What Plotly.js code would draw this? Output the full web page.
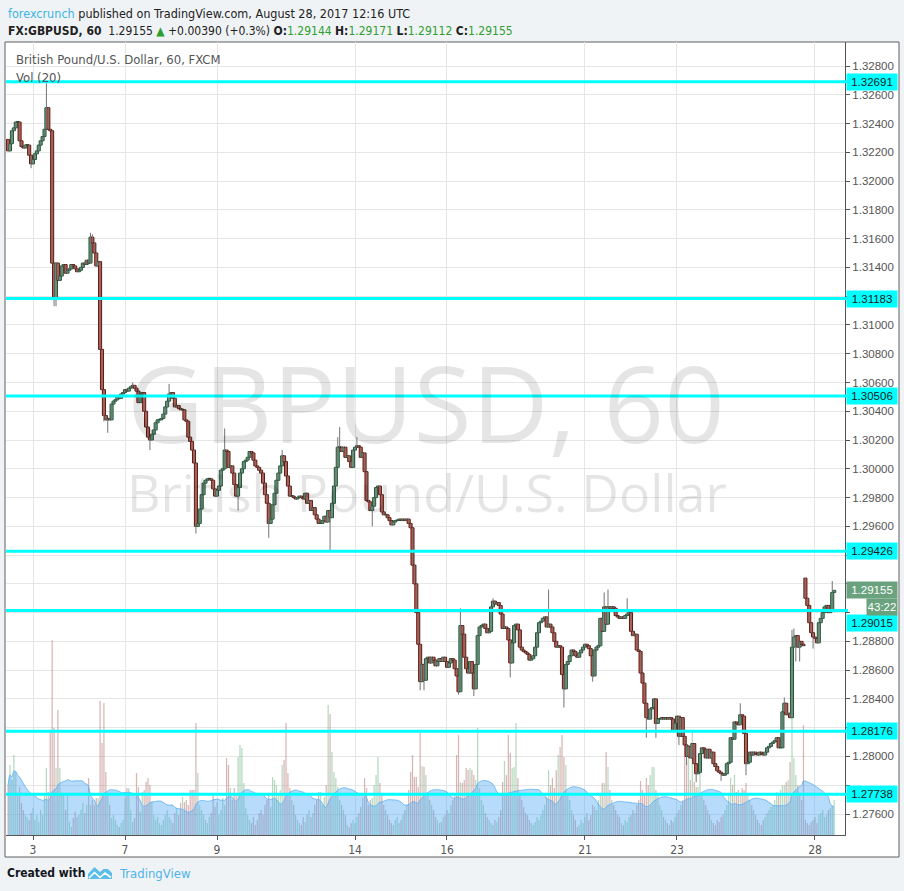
<!DOCTYPE html>
<html>
<head>
<meta charset="utf-8">
<script src="https://cdn.plot.ly/plotly-3.0.1.min.js"></script>
<style>
html,body{margin:0;padding:0;background:#f0f3f6;}
#chart{width:904px;height:891px;}
</style>
</head>
<body>
<div id="chart"></div>
<script>
// ---------------- DATA ----------------
// hourly bars, 2 Aug 2017 ~11:00 UTC .. 28 Aug 2017 12:00 UTC (FX:GBPUSD, 60)
const tickIdx = [13, 61, 109, 181, 229, 301, 349, 421];
const tickLabels = ['3', '7', '9', '14', '16', '21', '23', '28'];

// price-axis labels that are not covered by the level boxes
const priceTicks = [1.276, 1.280, 1.284, 1.286, 1.288, 1.296, 1.298, 1.300, 1.302, 1.304, 1.306, 1.308,
                    1.310, 1.314, 1.316, 1.318, 1.320, 1.322, 1.324, 1.326, 1.328];

const closes = [
1.3221,1.3226,1.3235,1.3237,1.3241,1.3241,1.3228,1.3224,1.3223,1.3225,1.3225,1.3218,
1.3212,1.3215,1.3219,1.3221,1.3225,1.3228,1.3231,1.3236,1.3251,1.3236,1.3235,1.3143,
1.3119,1.3143,1.3131,1.3134,1.3141,1.3142,1.3136,1.3138,1.3139,1.3142,1.3141,1.3139,
1.3137,1.3138,1.3140,1.3143,1.3142,1.3145,1.3143,1.3161,1.3157,1.3150,1.3141,1.3144,
1.3083,1.3055,1.3037,1.3034,1.3035,1.3034,1.3045,1.3047,1.3048,1.3050,1.3049,1.3052,
1.3053,1.3055,1.3054,1.3056,1.3057,1.3058,1.3056,1.3054,1.3046,1.3052,1.3053,1.3040,
1.3029,1.3022,1.3020,1.3024,1.3027,1.3032,1.3034,1.3034,1.3035,1.3038,1.3043,1.3047,
1.3052,1.3053,1.3049,1.3043,1.3044,1.3042,1.3041,1.3041,1.3034,1.3033,1.3022,1.3019,
1.3013,1.3004,1.2960,1.2962,1.2972,1.2982,1.2990,1.2992,1.2993,1.2993,1.2992,1.2986,
1.2981,1.2985,1.2988,1.2999,1.3000,1.3013,1.3012,1.3001,1.3002,1.2997,1.2989,1.2981,
1.2987,1.2997,1.3000,1.3005,1.3006,1.3008,1.3012,1.3011,1.3006,1.3002,1.3001,1.2999,
1.2997,1.2990,1.2982,1.2976,1.2962,1.2965,1.2975,1.2983,1.2992,1.2997,1.3002,1.3009,
1.3005,1.2995,1.2988,1.2981,1.2981,1.2980,1.2979,1.2980,1.2981,1.2980,1.2979,1.2983,
1.2976,1.2978,1.2971,1.2973,1.2968,1.2965,1.2962,1.2962,1.2964,1.2967,1.2963,1.2971,
1.2966,1.2976,1.2988,1.3001,1.3015,1.3015,1.3012,1.3015,1.3008,1.3009,1.3005,1.3001,
1.3013,1.3015,1.3016,1.3015,1.3008,1.3011,1.2998,1.2978,1.2977,1.2971,1.2974,1.2980,
1.2987,1.2988,1.2982,1.2970,1.2968,1.2968,1.2966,1.2964,1.2961,1.2963,1.2964,1.2964,
1.2965,1.2964,1.2965,1.2964,1.2965,1.2962,1.2959,1.2933,1.2920,1.2900,1.2878,1.2852,
1.2864,1.2853,1.2868,1.2869,1.2865,1.2869,1.2867,1.2863,1.2866,1.2868,1.2866,1.2869,
1.2866,1.2862,1.2865,1.2868,1.2867,1.2861,1.2856,1.2845,1.2891,1.2885,1.2869,1.2861,
1.2858,1.2866,1.2858,1.2847,1.2864,1.2884,1.2890,1.2891,1.2892,1.2889,1.2886,1.2887,
1.2904,1.2908,1.2906,1.2907,1.2905,1.2899,1.2889,1.2890,1.2889,1.2881,1.2865,1.2879,
1.2891,1.2892,1.2888,1.2876,1.2874,1.2873,1.2872,1.2871,1.2867,1.2868,1.2870,1.2876,
1.2886,1.2893,1.2894,1.2896,1.2897,1.2890,1.2892,1.2890,1.2886,1.2880,1.2876,1.2877,
1.2876,1.2857,1.2847,1.2864,1.2866,1.2870,1.2874,1.2873,1.2870,1.2869,1.2872,1.2874,
1.2876,1.2878,1.2877,1.2875,1.2870,1.2856,1.2874,1.2876,1.2877,1.2896,1.2887,1.2904,
1.2892,1.2904,1.2903,1.2904,1.2903,1.2898,1.2897,1.2896,1.2897,1.2896,1.2898,1.2899,
1.2900,1.2887,1.2884,1.2885,1.2874,1.2873,1.2858,1.2851,1.2837,1.2827,1.2826,1.2833,
1.2834,1.2840,1.2823,1.2826,1.2826,1.2827,1.2826,1.2827,1.2826,1.2827,1.2826,1.2818,
1.2823,1.2828,1.2814,1.2827,1.2814,1.2808,1.2800,1.2807,1.2799,1.2809,1.2795,1.2788,
1.2789,1.2802,1.2806,1.2805,1.2799,1.2805,1.2799,1.2803,1.2795,1.2793,1.2790,1.2789,
1.2788,1.2787,1.2788,1.2795,1.2796,1.2813,1.2812,1.2824,1.2823,1.2822,1.2829,1.2828,
1.2816,1.2795,1.2796,1.2803,1.2801,1.2803,1.2802,1.2801,1.2803,1.2802,1.2801,1.2803,
1.2806,1.2807,1.2809,1.2810,1.2811,1.2813,1.2806,1.2806,1.2831,1.2837,1.2829,1.2830,
1.2827,1.2876,1.2883,1.2884,1.2876,1.2880,1.2878,1.2877,1.2910,1.2905,1.2893,1.2886,
1.2883,1.2882,1.2879,1.2893,1.2896,1.2900,1.2904,1.2905,1.2900,1.2902,1.2914,1.29155
];

// bars whose open is not the previous close (first bar, weekend gap)
const gapIdx = [0, 416];
const gapOpen = [1.3229, 1.2924];

// visible wick extremes
const hiIdx = [20,43,44,65,84,113,143,172,173,182,236,253,282,311,313,323,382,405,409,410,430];
const hiVal = [1.3268,1.3164,1.3163,1.3060,1.3059,1.3028,1.3013,1.3022,1.3029,1.3022,1.2903,1.2910,1.2916,1.2914,1.2916,1.2910,1.2837,1.2841,1.2888,1.2889,1.2922];
const loIdx = [12,24,25,50,52,74,98,120,136,168,190,215,217,235,243,262,290,305,333,338,350,354,359,372,385,411,413,420];
const loVal = [1.3209,1.3113,1.3113,1.3033,1.3025,1.3013,1.2955,1.2971,1.2952,1.2942,1.2960,1.2846,1.2846,1.2843,1.2842,1.2855,1.2834,1.2852,1.2813,1.2813,1.2808,1.2794,1.2782,1.2783,1.2787,1.2866,1.2866,1.2875];

// tick volume (relative units)
const volumes = [
50,70,55,80,63,40,48,32,25,20,18,15,
22,27,15,20,13,25,20,42,67,43,105,195,
107,67,125,67,40,40,25,40,13,8,17,23,
18,20,25,32,22,30,57,30,35,30,37,37,
134,92,132,63,40,30,17,20,15,10,8,12,
15,37,47,47,25,13,17,62,48,23,43,45,
53,57,50,33,20,15,18,12,10,15,20,25,
18,15,12,22,27,20,32,38,33,35,30,45,
45,45,112,62,30,25,20,15,12,18,22,40,
28,33,20,25,37,30,77,70,47,35,47,40,
78,90,87,52,27,20,15,12,18,10,15,22,
25,20,30,35,40,28,58,55,50,40,45,70,
75,112,62,47,35,30,20,15,12,10,18,13,
20,25,18,22,30,35,43,43,30,38,50,130,
121,83,63,57,48,35,30,25,20,10,8,12,
15,12,18,22,28,37,57,47,30,35,37,50,
60,78,52,40,30,25,20,15,12,10,15,18,
12,15,20,25,30,45,63,80,58,58,48,105,
69,68,60,40,35,30,25,18,15,12,13,18,
20,25,22,30,35,40,80,100,53,52,55,67,
65,67,65,60,55,107,47,35,30,22,18,15,
12,10,15,13,18,25,53,74,60,100,82,67,
68,112,57,40,35,28,22,20,15,12,10,13,
18,15,20,25,30,38,65,50,57,47,65,80,
88,100,78,70,40,35,25,20,15,8,10,15,
12,18,22,15,20,30,28,25,35,40,52,52,
83,68,45,35,30,25,20,18,12,10,15,13,
18,20,25,22,30,35,54,45,40,57,50,60,
68,68,45,40,30,25,18,15,12,10,15,13,
18,22,25,30,35,93,73,80,55,105,53,48,
48,63,40,35,30,25,20,15,12,10,15,13,
18,20,25,30,40,57,50,60,43,45,40,47,
45,52,40,35,30,25,20,15,12,10,15,18,
22,25,28,30,35,43,40,45,50,50,53,55,
73,162,77,60,50,40,35,110,15,12,10,13,
15,18,12,20,22,25,18,20,25,27,30,35
];

// horizontal levels drawn on the chart
const levels = [1.32691, 1.31183, 1.30506, 1.29426, 1.29015, 1.28176, 1.27738];
const levelLabelShift = [0, 0, 0, 0, -13, 0, 0];   // label nudged off the price box
const lastPrice = 1.29155;
const countdown = '43:22';
const volMaPeriod = 20;

// ---------------- BUILD ----------------
const idx = closes.map((_, i) => i);
const opens = closes.map((c, i) => (i === 0 ? c : closes[i - 1]));
gapIdx.forEach((g, k) => { opens[g] = gapOpen[k]; });
const bodyHi = closes.map((c, i) => Math.max(c, opens[i]));
const bodyLo = closes.map((c, i) => Math.min(c, opens[i]));
const bodySize = bodyHi.map((h, i) => Math.max(h - bodyLo[i], 0.00004));
const highs = bodyHi.slice();
const lows = bodyLo.slice();
hiIdx.forEach((h, k) => { highs[h] = Math.max(highs[h], hiVal[k]); });
loIdx.forEach((l, k) => { lows[l] = Math.min(lows[l], loVal[k]); });
const isUp = closes.map((c, i) => c >= opens[i]);

const wickX = [], wickY = [];
idx.forEach(i => { wickX.push(i, i, null); wickY.push(lows[i], highs[i], null); });

const volMa = volumes.map((v, i) => {
  const s = Math.max(0, i - volMaPeriod + 1);
  const w = volumes.slice(s, i + 1);
  return w.reduce((a, b) => a + b, 0) / w.length;
});

// layout geometry helpers (pixel -> paper)
const W = 904, H = 891, mL = 6, mR = 59, mT = 42, mB = 56;
const pw = W - mL - mR, ph = H - mT - mB;
const px = X => (X - mL) / pw;
const py = Y => (H - mB - Y) / ph;

const narrow = '"Liberation Sans Narrow", "DejaVu Sans Condensed", "Roboto Condensed", "Liberation Sans", sans-serif';
const arial = '"Liberation Sans", Arial, sans-serif';

const traces = [
  {
    type: 'bar', x: idx, y: volumes, yaxis: 'y', xaxis: 'x', width: 0.65,
    marker: { color: isUp.map(u => u ? 'rgba(110,180,130,0.5)' : 'rgba(180,110,110,0.5)'), line: { width: 0 } },
    hoverinfo: 'skip', showlegend: false
  },
  {
    type: 'scatter', mode: 'lines', x: idx, y: volMa, yaxis: 'y', xaxis: 'x',
    fill: 'tozeroy', fillcolor: 'rgba(80,170,245,0.42)',
    line: { color: 'rgba(90,175,245,0.85)', width: 1, shape: 'spline', smoothing: 0.8 },
    hoverinfo: 'skip', showlegend: false
  },
  {
    type: 'scatter', mode: 'lines', x: wickX, y: wickY, xaxis: 'x', yaxis: 'y2',
    line: { color: '#737375', width: 1 }, connectgaps: false,
    hoverinfo: 'skip', showlegend: false
  },
  {
    type: 'bar', x: idx, base: bodyLo, y: bodySize, xaxis: 'x', yaxis: 'y2', width: 1.6,
    marker: {
      color: isUp.map(u => u ? '#6ba583' : '#d75442'),
      line: { color: isUp.map(u => u ? '#225437' : '#5b1a13'), width: 1 }
    },
    hoverinfo: 'skip', showlegend: false
  }
];

const shapes = [
  { type: 'rect', xref: 'paper', yref: 'paper', x0: px(5), x1: px(899), y0: py(857), y1: py(42),
    fillcolor: '#ffffff', line: { color: '#5e5e5e', width: 1 }, layer: 'below' },
];
levels.forEach(lv => shapes.push({
  type: 'line', xref: 'paper', yref: 'y2', x0: 0, x1: px(848), y0: lv, y1: lv,
  line: { color: '#00ffff', width: 3 }, layer: 'above'
}));
// TradingView logo (footer)
const logoPts = [[88,879],[88,874],[94.5,867],[100,872],[103.5,869],[108,869],[112,873],[112,879]];
shapes.push({
  type: 'path', xref: 'paper', yref: 'paper',
  path: 'M ' + logoPts.map(p => px(p[0]) + ',' + py(p[1])).join(' L ') + ' Z',
  fillcolor: '#5dbde9', line: { width: 0 }
});
const zig = [[89,878],[94.5,872.5],[100,877.5],[105,873],[111,877.5]];
shapes.push({
  type: 'path', xref: 'paper', yref: 'paper',
  path: 'M ' + zig.map(p => px(p[0]) + ',' + py(p[1])).join(' L '),
  line: { color: '#ffffff', width: 1.6 }
});

const green = '#2f9e2f';
const sp = '\u00a0';
const annotations = [
  { xref: 'paper', yref: 'paper', x: px(6), y: py(13), xanchor: 'left', yanchor: 'middle', showarrow: false,
    text: '<span style="color:#3cb3e4">forexcrunch</span> published on TradingView.com, August 28, 2017 12:16 UTC',
    font: { family: narrow, size: 12.5, color: '#222222' } },
  { xref: 'paper', yref: 'paper', x: px(6), y: py(31), xanchor: 'left', yanchor: 'middle', showarrow: false,
    text: '<b>FX:GBPUSD, 60</b>' + sp + sp + '1.29155 <span style="color:' + green + '">\u25B2</span> +0.00390 (+0.3%) ' +
          '<b>O:</b><span style="color:' + green + '">1.29144</span> <b>H:</b><span style="color:' + green + '">1.29171</span> ' +
          '<b>L:</b><span style="color:' + green + '">1.29112</span> <b>C:</b><span style="color:' + green + '">1.29155</span>',
    font: { family: narrow, size: 12, color: '#222222' } },
  { xref: 'paper', yref: 'paper', x: 0.5, y: py(402), xanchor: 'center', yanchor: 'middle', showarrow: false,
    text: 'GBPUSD, 60', font: { family: '"Open Sans", sans-serif', size: 106, color: 'rgba(0,0,0,0.10)' } },
  { xref: 'paper', yref: 'paper', x: px(427), y: py(491), xanchor: 'center', yanchor: 'middle', showarrow: false,
    text: 'British Pound/U.S. Dollar', font: { family: '"Open Sans", sans-serif', size: 52, color: 'rgba(0,0,0,0.10)' } },
  { xref: 'paper', yref: 'paper', x: px(14), y: py(60), xanchor: 'left', yanchor: 'middle', showarrow: false,
    text: 'British Pound/U.S. Dollar, 60, FXCM', font: { family: narrow, size: 13, color: '#555555' } },
  { xref: 'paper', yref: 'paper', x: px(14), y: py(78), xanchor: 'left', yanchor: 'middle', showarrow: false,
    text: 'Vol (20)', font: { family: narrow, size: 13, color: '#555555' } },
  { xref: 'paper', yref: 'paper', x: px(5), y: py(873), xanchor: 'left', yanchor: 'middle', showarrow: false,
    text: '<b>Created with</b>', font: { family: narrow, size: 12, color: '#131722' } },
  { xref: 'paper', yref: 'paper', x: px(117), y: py(873), xanchor: 'left', yanchor: 'middle', showarrow: false,
    text: 'TradingView', font: { family: narrow, size: 13, color: '#4fb3e6' } },
];
levels.forEach((lv, k) => annotations.push({
  xref: 'paper', yref: 'y2', x: px(846), y: lv, yshift: levelLabelShift[k], xanchor: 'left', yanchor: 'middle', showarrow: false,
  text: lv.toFixed(5), bgcolor: '#00ffff', width: 48, height: 14, borderpad: 1, align: 'center',
  font: { family: arial, size: 11.5, color: '#1a1a1a' }
}));
annotations.push({
  xref: 'paper', yref: 'y2', x: px(846), y: lastPrice, xanchor: 'left', yanchor: 'middle', showarrow: false,
  text: lastPrice.toFixed(5), bgcolor: '#6aa27e', width: 48, height: 14, borderpad: 1, align: 'center',
  font: { family: arial, size: 11.5, color: '#ffffff' }
});
annotations.push({
  xref: 'paper', yref: 'y2', x: px(898), y: lastPrice, yshift: -17, xanchor: 'right', yanchor: 'middle', showarrow: false,
  text: countdown, bgcolor: '#6aa27e', width: 28, height: 14, borderpad: 1, align: 'center',
  font: { family: arial, size: 11.5, color: '#ffffff' }
});

const layout = {
  width: W, height: H,
  margin: { l: mL, r: mR, t: mT, b: mB, pad: 0 },
  paper_bgcolor: '#f0f3f6', plot_bgcolor: '#ffffff',
  showlegend: false, barmode: 'overlay', hovermode: false,
  xaxis: {
    type: 'linear', range: [-1.09, 436.66],
    tickmode: 'array', tickvals: tickIdx, ticktext: tickLabels,
    ticks: 'outside', ticklen: 4, tickcolor: '#555555',
    showgrid: true, gridcolor: '#e6e6e6', gridwidth: 1, zeroline: false,
    showline: true, linecolor: '#555555', linewidth: 1,
    tickfont: { family: narrow, size: 12, color: '#555555' }
  },
  yaxis: {
    range: [0, Math.max(...volumes) * 4.07], visible: false, showgrid: false, zeroline: false, fixedrange: true
  },
  yaxis2: {
    overlaying: 'y', side: 'right', anchor: 'x', range: [1.27454, 1.32967],
    tickmode: 'array', tickvals: priceTicks, tickformat: '.5f',
    ticks: 'outside', ticklen: 4, tickcolor: '#555555',
    showgrid: true, gridcolor: '#e6e6e6', gridwidth: 1, zeroline: false,
    showline: true, linecolor: '#555555', linewidth: 1,
    minor: { tick0: 1.276, dtick: 0.002, showgrid: true, gridcolor: '#e6e6e6', gridwidth: 1,
             ticks: 'outside', ticklen: 4, tickcolor: '#555555' },
    tickfont: { family: arial, size: 11.5, color: '#555555' }
  },
  shapes: shapes,
  annotations: annotations
};

Plotly.newPlot('chart', traces, layout, { displayModeBar: false, staticPlot: true });
</script>
</body>
</html>
